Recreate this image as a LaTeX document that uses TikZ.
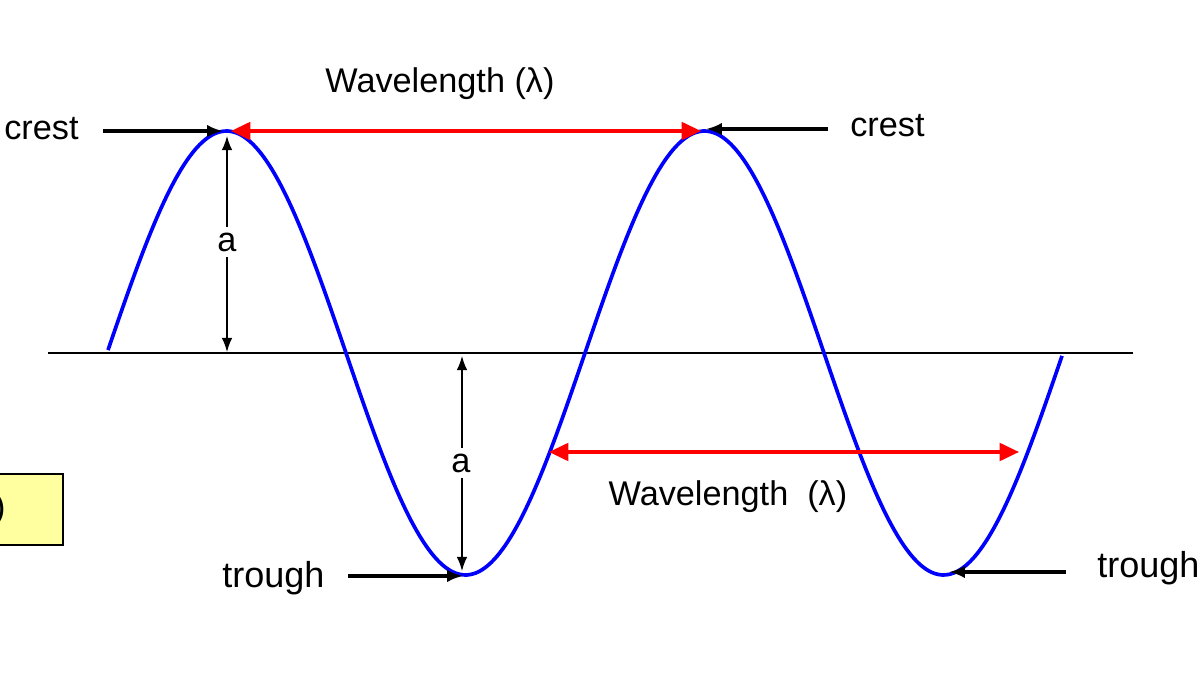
\documentclass[tikz,border=0pt]{standalone}
\usepackage{fontspec}
\setmainfont{Liberation Sans}
\usetikzlibrary{arrows.meta}
\tikzset{
  lbl/.style={font=\fontsize{19.5}{22}\selectfont, inner sep=0pt},
  wave/.style={blue, line width=2.1pt},
  axisline/.style={black, line width=0.8pt},
  pointer/.style={black, line width=2.2pt, -{Latex[length=9pt,width=7pt]}},
  redarrow/.style={red, line width=1.8pt, {Triangle[length=11pt,width=10pt]}-{Triangle[length=11pt,width=10pt]}},
  amp/.style={black, line width=0.8pt, {Latex[length=8pt,width=6pt]}-{Latex[length=8pt,width=6pt]}},
  ylbox/.style={draw=black, line width=1.3pt, fill={rgb,255:red,255;green,255;blue,160}, minimum width=2.46cm, minimum height=1.42cm, inner sep=0pt}
}
\begin{document}
\begin{tikzpicture}[x=0.02cm, y=-0.02cm]
\clip (0,0) rectangle (1200,675);
\fill[white] (0,0) rectangle (1200,675);

% axis
\coordinate (axL) at (48,353);
\coordinate (axR) at (1133,353);
\draw[axisline] (axL) -- (axR);

% wave
\draw[wave, smooth] plot[domain=108:1062, samples=240] (\x, {353-222*sin(0.75314*(\x-107))});

% key points
\coordinate (p1) at (223,131);
\coordinate (p2) at (706,129);
\coordinate (t1) at (463,576);
\coordinate (t2) at (949,572);
\coordinate (r1a) at (231,131);
\coordinate (r1b) at (701,131);
\coordinate (r2a) at (549,452);
\coordinate (r2b) at (1019,452);

% labels
\node[lbl, anchor=base west] (crestL) at (4,140) {crest};
\node[lbl, anchor=base west] (crestR) at (850,137) {crest};
\node[lbl, anchor=base west, font=\fontsize{20.5}{23}\selectfont] (troughL) at (222,587) {trough};
\node[lbl, anchor=base west, font=\fontsize{20.5}{23}\selectfont] (troughR) at (1097,577) {trough};
\node[lbl, anchor=base] (wl1) at (440,93) {Wavelength (λ)};
\node[lbl, anchor=base] (wl2) at (728,505) {Wavelength\ \ (λ)};

% pointer arrows
\coordinate (cL) at (103,131);
\draw[pointer] (cL) -- (p1);
\coordinate (cR) at (828,129);
\draw[pointer] (cR) -- (p2);
\coordinate (tL) at (348,576);
\draw[pointer] (tL) -- (t1);
\coordinate (tR) at (1066,572);
\draw[pointer] (tR) -- (t2);

% wavelength arrows
\draw[redarrow] (r1a) -- (r1b);
\draw[redarrow] (r2a) -- (r2b);

% amplitude arrows
\coordinate (a1t) at (227,136);
\coordinate (a1b) at (227,352);
\draw[amp] (a1t) -- (a1b);
\node[lbl, fill=white, inner sep=3pt] (a1) at (227,242) {a};
\coordinate (a2t) at (462,356);
\coordinate (a2b) at (462,571);
\draw[amp] (a2t) -- (a2b);
\node[lbl, fill=white, inner sep=3pt] (a2) at (461,463) {a};

% yellow box at left edge
\node[ylbox] (ybox) at (1.5,509.5) {};
\node[lbl, anchor=east] (ytext) at (6,510) {)};
\end{tikzpicture}
\end{document}
